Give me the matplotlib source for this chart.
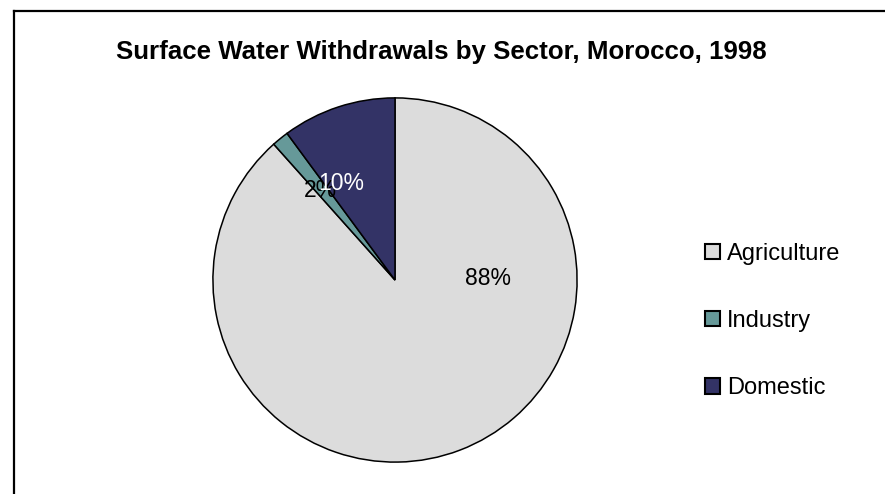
import matplotlib.pyplot as plt
from matplotlib.lines import Line2D
from matplotlib.patches import Patch

plt.rcParams['font.family'] = ['Liberation Sans', 'DejaVu Sans']

sectors = ['Agriculture', 'Industry', 'Domestic']
shares = [88.4, 1.5, 10.1]
colors = ['#dcdcdc', '#669999', '#333366']
label_colors = ['black', 'black', 'white']
# where the percentage labels sit (pie radius = 1)
label_pos = [(0.51, 0.01), (-0.41, 0.49), (-0.295, 0.53)]

W, H = 885, 494
fig = plt.figure(figsize=(W / 100, H / 100), dpi=100)

# pie centre at (395, 280) px from top-left, radius 183 px
cx, cy, r = 395, 280, 183
ax = fig.add_axes([(cx - r) / W, (H - cy - r) / H, 2 * r / W, 2 * r / H])
wedges, texts, autotexts = ax.pie(shares, colors=colors, startangle=90, counterclock=False,
                                  radius=1, autopct='%.0f%%',
                                  wedgeprops=dict(edgecolor='black', linewidth=1.1),
                                  textprops=dict(fontsize=16.5))
for t, c, (x, y) in zip(autotexts, label_colors, label_pos):
    t.set_color(c)
    t.set_position((x, y))
    t.set_ha('center')
    t.set_va('center')
autotexts[2].set_zorder(autotexts[1].get_zorder() + 1)
ax.set_xlim(-1.005, 1.005)
ax.set_ylim(-1.005, 1.005)
ax.set_aspect('equal')
ax.axis('off')

handles = [Patch(facecolor=c, edgecolor='black', linewidth=1.5) for c in colors]
fig.legend(handles, sectors, loc='center left', bbox_to_anchor=(705 / W, 1 - 321 / H),
           frameon=False, fontsize=17, labelspacing=1.92, handlelength=0.62,
           handleheight=0.62, handletextpad=0.3, borderpad=0, borderaxespad=0)

fig.text(441 / W, 1 - 52 / H, 'Surface Water Withdrawals by Sector, Morocco, 1998',
         ha='center', va='center', fontsize=18.6, fontweight='bold')

# chart area border (only left and top edges show in the crop)
fig.add_artist(Line2D([14 / W, 14 / W], [0, 1 - 11 / H], color='black', lw=1.6,
                      transform=fig.transFigure))
fig.add_artist(Line2D([14 / W, 1], [1 - 11 / H, 1 - 11 / H], color='black', lw=1.6,
                      transform=fig.transFigure))

fig.savefig('out.png', dpi=100, facecolor='white')
